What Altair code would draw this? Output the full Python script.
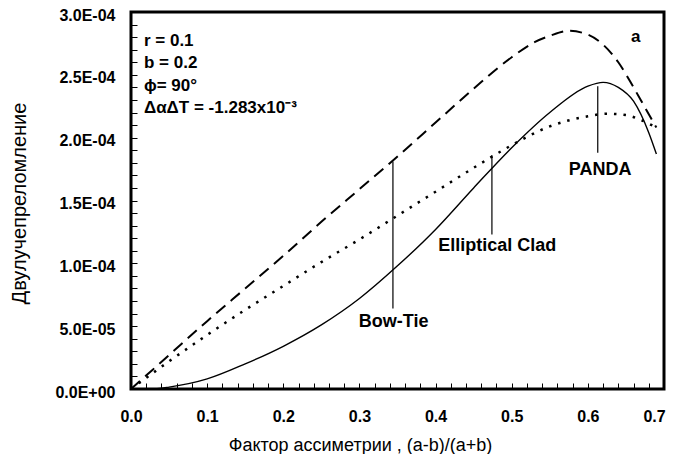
import json
import altair as alt
import pandas as pd

# ---- data ----
bow_x = [0.0, 0.05, 0.1, 0.15, 0.2, 0.25, 0.3, 0.35, 0.4, 0.45, 0.5, 0.53, 0.55, 0.575, 0.6, 0.62, 0.64, 0.66, 0.675, 0.69]
bow_y = [0.0, 0.27e-4, 0.54e-4, 0.80e-4, 1.06e-4, 1.33e-4, 1.59e-4, 1.85e-4, 2.12e-4, 2.39e-4, 2.64e-4, 2.76e-4, 2.81e-4, 2.85e-4, 2.82e-4, 2.74e-4, 2.60e-4, 2.40e-4, 2.24e-4, 2.08e-4]

ell_x = [0.0, 0.05, 0.1, 0.15, 0.2, 0.25, 0.3, 0.35, 0.4, 0.45, 0.5, 0.55, 0.6, 0.625, 0.65, 0.67, 0.69]
ell_y = [0.0, 0.22e-4, 0.43e-4, 0.63e-4, 0.82e-4, 1.01e-4, 1.19e-4, 1.38e-4, 1.57e-4, 1.76e-4, 1.94e-4, 2.09e-4, 2.17e-4, 2.19e-4, 2.18e-4, 2.14e-4, 2.08e-4]

pan_x = [0.0, 0.025, 0.05, 0.1, 0.15, 0.2, 0.25, 0.3, 0.35, 0.4, 0.45, 0.5, 0.55, 0.6, 0.62, 0.64, 0.66, 0.68, 0.69]
pan_y = [0.0, 0.0, 0.015e-4, 0.08e-4, 0.2e-4, 0.34e-4, 0.51e-4, 0.72e-4, 0.98e-4, 1.27e-4, 1.6e-4, 1.92e-4, 2.2e-4, 2.41e-4, 2.44e-4, 2.4e-4, 2.29e-4, 2.04e-4, 1.87e-4]

series_names = ["Bow-Tie", "Elliptical Clad", "PANDA"]

# labels + leader lines (data units)
label_text = ["Bow-Tie", "Elliptical Clad", "PANDA"]
label_x = [0.345, 0.481, 0.616]
label_y = [0.53e-4, 1.14e-4, 1.74e-4]
leader_x = [0.344, 0.474, 0.613]
leader_top = [1.81e-4, 1.86e-4, 2.41e-4]
leader_bottom = [0.64e-4, 1.23e-4, 1.88e-4]

# parameter block
param_text = ["r = 0.1", "b = 0.2", "ϕ= 90°", "ΔαΔT = -1.283x10⁻³"]
param_x = [0.017, 0.017, 0.017, 0.017]
param_y = [2.77e-4, 2.595e-4, 2.415e-4, 2.235e-4]

panel_text = ["a"]
panel_x = [0.663]
panel_y = [2.80e-4]

# axes
x_ticks = [round(0.02 * i, 2) for i in range(36)]
y_ticks = [round(1e-5 * i, 7) for i in range(31)]
y_tick_labels = ["0.0E+00", "5.0E-05", "1.0E-04", "1.5E-04", "2.0E-04", "2.5E-04", "3.0E-04"]
x_title = "Фактор ассиметрии  , (a-b)/(a+b)"
y_title = "Двулучепреломление"

# ---- build ----
rows = []
for name, xs, ys in zip(series_names, [bow_x, ell_x, pan_x], [bow_y, ell_y, pan_y]):
    for a, b in zip(xs, ys):
        rows.append({"series": name, "x": a, "y": b})
curves = pd.DataFrame(rows)

FONT = "Liberation Sans"

xscale = alt.Scale(domain=[0, 0.7], nice=False, zero=False)
yscale = alt.Scale(domain=[0, 3e-4], nice=False, zero=False)

x_axis = alt.Axis(
    values=x_ticks,
    labelExpr="abs(datum.value*10 - round(datum.value*10)) < 1e-6 ? format(datum.value, '.1f') : ''",
    grid=False, domain=False, offset=-6, tickSize=6, tickColor="black", tickWidth=1,
    labelPadding=19, labelFont=FONT, labelFontSize=16, labelFontWeight="bold", labelColor="black",
    labelOffset={"condition": {"test": "datum.value > 0.69", "value": -10}, "value": 0},
    labelOverlap=False, labelFlush=False,
    title=x_title, titleFont=FONT, titleFontSize=18, titleFontWeight="normal", titleColor="black",
    titleX=229, titleY=62, titleAlign="center", titleBaseline="middle",
)
y_axis = alt.Axis(
    values=y_ticks,
    labelExpr="abs(datum.value*2e4 - round(datum.value*2e4)) < 1e-6 ? "
    + json.dumps(y_tick_labels) + "[round(datum.value*2e4)] : ''",
    grid=False, domain=False, offset=-6, tickSize=6, tickColor="black", tickWidth=1,
    labelPadding=16, labelOffset=3, labelFont=FONT, labelFontSize=16, labelFontWeight="bold",
    labelColor="black", labelOverlap=False, labelFlush=False,
    title=y_title, titleFont=FONT, titleFontSize=20, titleFontWeight="normal", titleColor="black",
    titleX=-118, titleY=191, titleAngle=-90, titleAlign="center", titleBaseline="middle",
)

X = alt.X("x:Q", scale=xscale, axis=x_axis)
Y = alt.Y("y:Q", scale=yscale, axis=y_axis)

base = alt.Chart(curves)
bow = base.transform_filter(alt.datum.series == "Bow-Tie").mark_line(
    color="black", strokeWidth=2, strokeDash=[12, 7], interpolate="monotone"
).encode(x=X, y=Y)
ell = base.transform_filter(alt.datum.series == "Elliptical Clad").mark_line(
    color="black", strokeWidth=2.5, strokeDash=[2.5, 7], strokeCap="butt", interpolate="monotone"
).encode(x=X, y=Y)
pan = base.transform_filter(alt.datum.series == "PANDA").mark_line(
    color="black", strokeWidth=1.4, interpolate="monotone"
).encode(x=X, y=Y)

leaders_df = pd.DataFrame({"x": leader_x, "y": leader_top, "y2": leader_bottom})
leaders = alt.Chart(leaders_df).mark_rule(color="black", strokeWidth=1.2).encode(
    x=X, y=Y, y2="y2:Q"
)

labels_df = pd.DataFrame({"t": label_text, "x": label_x, "y": label_y})
labels = alt.Chart(labels_df).mark_text(
    font=FONT, fontSize=18, fontWeight="bold", color="black", align="center", baseline="middle"
).encode(x=X, y=Y, text="t:N")

params_df = pd.DataFrame({"t": param_text, "x": param_x, "y": param_y})
params = alt.Chart(params_df).mark_text(
    font=FONT, fontSize=17, fontWeight="bold", color="black", align="left", baseline="middle"
).encode(x=X, y=Y, text="t:N")

panel_df = pd.DataFrame({"t": panel_text, "x": panel_x, "y": panel_y})
panel = alt.Chart(panel_df).mark_text(
    font=FONT, fontSize=17, fontWeight="bold", color="black", align="center", baseline="middle"
).encode(x=X, y=Y, text="t:N")

chart = alt.layer(bow, ell, pan, leaders, labels, params, panel).properties(
    width=533, height=377,
    autosize=alt.AutoSizeParams(type="none"),
    padding={"left": 123, "top": 4, "right": 4, "bottom": 65},
    background="white",
).configure_view(stroke="black", strokeWidth=3)

chart.save("out.html", embed_options={"renderer": "svg", "actions": False})
